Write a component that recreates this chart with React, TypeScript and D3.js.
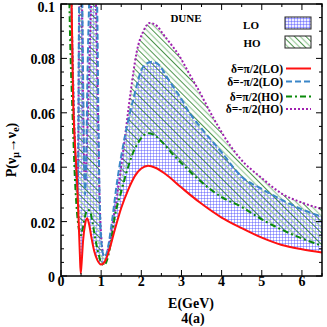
import React from "react";
import * as d3 from "d3";

// ---- data (E in GeV, P probability) ----
const redE = [0.15,0.25,0.265,0.3,0.35,0.4,0.44,0.47,0.49,0.51,0.55,0.6,0.65,0.7,0.76,0.83,0.9,1.0,1.1,1.2,1.34,1.5,1.67,1.85,2.0,2.17,2.35,2.6,3.0,3.46,4.0,4.5,5.0,5.5,6.0,6.5];
const redP = [0.25,0.115,0.1,0.067,0.048,0.035,0.02,0.008,0.001,0.004,0.013,0.019,0.0212,0.019,0.014,0.009,0.006,0.0042,0.0055,0.0095,0.017,0.025,0.0316,0.037,0.0395,0.0405,0.0398,0.0375,0.0325,0.027,0.0215,0.0176,0.0141,0.0114,0.0098,0.0086];

const blueE = [0.15,0.22,0.26,0.3,0.34,0.38,0.41,0.43,0.44,0.45,0.49,0.53,0.55,0.57,0.6,0.63,0.66,0.7,0.8,0.9,0.93,0.96,1.0,1.05,1.1,1.15,1.25,1.4,1.6,1.8,2.05,2.26,2.45,2.63,2.8,2.96,3.2,3.46,4.0,4.5,5.0,5.5,6.0,6.5];
const blueP = [0.25,0.13,0.1,0.072,0.05,0.036,0.031,0.045,0.07,0.1,0.125,0.1,0.074,0.048,0.03,0.045,0.074,0.1,0.13,0.1,0.06,0.03,0.014,0.008,0.007,0.009,0.018,0.035,0.052,0.065,0.077,0.0788,0.0775,0.0733,0.0695,0.066,0.06,0.055,0.0455,0.0365,0.032,0.028,0.0245,0.0218];

const greenE = [0.15,0.19,0.21,0.24,0.27,0.31,0.34,0.38,0.42,0.46,0.5,0.55,0.6,0.66,0.72,0.78,0.85,0.92,1.0,1.07,1.15,1.25,1.34,1.5,1.67,1.8,1.92,2.05,2.17,2.3,2.5,2.8,3.1,3.46,4.0,4.5,5.0,5.5,6.0,6.5];
const greenP = [0.25,0.12,0.1,0.08,0.067,0.05,0.038,0.027,0.02,0.016,0.015,0.018,0.022,0.0243,0.024,0.02,0.014,0.009,0.005,0.004,0.006,0.013,0.0218,0.031,0.04,0.0455,0.049,0.0515,0.0525,0.052,0.0495,0.0445,0.04,0.035,0.029,0.0254,0.0208,0.017,0.0138,0.0111];

const purpleE = [0.15,0.22,0.26,0.3,0.34,0.38,0.41,0.43,0.44,0.455,0.49,0.525,0.545,0.57,0.6,0.65,0.7,0.75,0.81,0.87,0.91,0.95,1.0,1.06,1.12,1.2,1.26,1.4,1.55,1.72,1.88,2.05,2.21,2.4,2.54,2.75,2.96,3.17,3.38,3.8,4.12,4.45,5.0,5.53,6.0,6.5];
const purpleP = [0.25,0.13,0.1,0.073,0.051,0.037,0.033,0.05,0.075,0.1,0.115,0.1,0.07,0.045,0.035,0.05,0.075,0.1,0.11,0.1,0.07,0.035,0.015,0.008,0.008,0.012,0.017,0.03,0.046,0.066,0.082,0.09,0.093,0.0918,0.089,0.085,0.0806,0.075,0.0696,0.058,0.05,0.0434,0.036,0.03,0.027,0.0246];

const xMajor = [0, 1, 2, 3, 4, 5, 6];
const xMinor = [0.5, 1.5, 2.5, 3.5, 4.5, 5.5, 6.5];
const yMajor = [0, 0.02, 0.04, 0.06, 0.08, 0.1];
const yTickLabels = ["0", "0.02", "0.04", "0.06", "0.08", "0.1"];
const yMinor = [0.005,0.01,0.015,0.025,0.03,0.035,0.045,0.05,0.055,0.065,0.07,0.075,0.085,0.09,0.095];

const legendItems = [
  { label: "δ=π/2(LO)", color: "#ff1010", dash: "none" },
  { label: "δ=-π/2(LO)", color: "#3a86c8", dash: "6,3" },
  { label: "δ=π/2(HO)", color: "#0a8a0a", dash: "6,3,2,3" },
  { label: "δ=-π/2(HO)", color: "#a020b0", dash: "2,2" },
];

const FONT = "'Liberation Serif', 'DejaVu Serif', serif";

export default function App() {
  const x = d3.scaleLinear().domain([0, 6.5]).range([61, 322]);
  const y = d3.scaleLinear().domain([0, 0.1]).range([276, 4]);
  const [x0, x1] = x.range();
  const [yb, yt] = y.range();

  const zip = (E: number[], P: number[]) => E.map((e, i) => [e, P[i]] as [number, number]);
  const red = zip(redE, redP);
  const blue = zip(blueE, blueP);
  const green = zip(greenE, greenP);
  const purple = zip(purpleE, purpleP);

  const line = d3
    .line<[number, number]>()
    .x((d) => x(d[0]))
    .y((d) => y(d[1]))
    .curve(d3.curveMonotoneX);

  const closed = (s: [number, number][]) =>
    (line(s) as string) +
    `L${x(s[s.length - 1][0])},${y(-0.01)}L${x(s[0][0])},${y(-0.01)}Z`;
  const band = (a: [number, number][], b: [number, number][]) => closed(a) + closed(b);

  const legendY = [68.5, 81.5, 96.5, 109];

  return (
    <svg width={327} height={327} style={{ position: "absolute", left: 0, top: 0, background: "#fff" }}>
      <defs>
        <clipPath id="plotclip">
          <rect x={x0} y={yt} width={x1 - x0} height={yb - yt} />
        </clipPath>
        <pattern id="grid" patternUnits="userSpaceOnUse" width={3} height={3}>
          <line x1={0} y1={0.5} x2={3} y2={0.5} stroke="#4848ff" strokeWidth={0.5} strokeOpacity={0.85} />
          <line x1={0.5} y1={0} x2={0.5} y2={3} stroke="#4848ff" strokeWidth={0.5} strokeOpacity={0.85} />
        </pattern>
        <pattern id="diag" patternUnits="userSpaceOnUse" width={8} height={8} patternTransform="rotate(45)">
          <line x1={0} y1={1.5} x2={8} y2={1.5} stroke="#1f7a1f" strokeWidth={0.8} />
          <line x1={0} y1={5.5} x2={8} y2={5.5} stroke="#9ccc9c" strokeWidth={1.3} />
        </pattern>
      </defs>

      <g clipPath="url(#plotclip)">
        <path d={band(red, blue)} fill="url(#grid)" fillRule="evenodd" stroke="none" />
        <path d={band(green, purple)} fill="url(#diag)" fillRule="evenodd" stroke="none" />
        <path d={line(purple) as string} fill="none" stroke="#a020b0" strokeWidth={2} strokeDasharray="2,2" />
        <path d={line(blue) as string} fill="none" stroke="#3a86c8" strokeWidth={2} strokeDasharray="6,3" />
        <path d={line(green) as string} fill="none" stroke="#0a8a0a" strokeWidth={2} strokeDasharray="6,3,2,3" />
        <path d={line(red) as string} fill="none" stroke="#ff1010" strokeWidth={2} />
      </g>

      {/* frame */}
      <rect x={x0} y={yt} width={x1 - x0} height={yb - yt} fill="none" stroke="#000" strokeWidth={1.5} />

      {/* x ticks */}
      {xMajor.map((v) => (
        <g key={"xM" + v}>
          <line x1={x(v)} x2={x(v)} y1={yb} y2={yb - 6} stroke="#000" strokeWidth={1} />
          <line x1={x(v)} x2={x(v)} y1={yt} y2={yt + 6} stroke="#000" strokeWidth={1} />
          <text x={x(v)} y={yb + 10} textAnchor="middle" fontFamily={FONT} fontWeight="bold" fontSize={14}>
            {v}
          </text>
        </g>
      ))}
      {xMinor.map((v) => (
        <g key={"xm" + v}>
          <line x1={x(v)} x2={x(v)} y1={yb} y2={yb - 3} stroke="#000" strokeWidth={1} />
          <line x1={x(v)} x2={x(v)} y1={yt} y2={yt + 3} stroke="#000" strokeWidth={1} />
        </g>
      ))}

      {/* y ticks */}
      {yMajor.map((v, i) => (
        <g key={"yM" + v}>
          <line x1={x0} x2={x0 + 6} y1={y(v)} y2={y(v)} stroke="#000" strokeWidth={1} />
          <line x1={x1} x2={x1 - 6} y1={y(v)} y2={y(v)} stroke="#000" strokeWidth={1} />
          <text x={55} y={Math.max(y(v) + 6, 12)} textAnchor="end" fontFamily={FONT} fontWeight="bold" fontSize={14}>
            {yTickLabels[i]}
          </text>
        </g>
      ))}
      {yMinor.map((v) => (
        <g key={"ym" + v}>
          <line x1={x0} x2={x0 + 3} y1={y(v)} y2={y(v)} stroke="#000" strokeWidth={1} />
          <line x1={x1} x2={x1 - 3} y1={y(v)} y2={y(v)} stroke="#000" strokeWidth={1} />
        </g>
      ))}

      {/* axis labels */}
      <text x={191} y={308} textAnchor="middle" fontFamily={FONT} fontWeight="bold" fontSize={14}>
        E(GeV)
      </text>
      <text x={193} y={323} textAnchor="middle" fontFamily={FONT} fontWeight="bold" fontSize={14}>
        4(a)
      </text>
      <text
        transform="translate(16,150) rotate(-90)"
        textAnchor="middle"
        fontFamily={FONT}
        fontWeight="bold"
        fontSize={14}
      >
        P(ν<tspan fontSize={10} dy={3}>μ</tspan>
        <tspan dy={-3}>→ν</tspan>
        <tspan fontSize={10} dy={3}>e</tspan>
        <tspan dy={-3}>)</tspan>
      </text>

      {/* legend */}
      <text x={186} y={22} textAnchor="middle" fontFamily={FONT} fontWeight="bold" fontSize={11}>
        DUNE
      </text>
      <text x={251} y={29} textAnchor="middle" fontFamily={FONT} fontWeight="bold" fontSize={11}>
        LO
      </text>
      <rect x={285} y={17} width={26} height={12} fill="#eef" stroke="none" />
      <rect x={285} y={17} width={26} height={12} fill="url(#grid)" stroke="#222" strokeWidth={1} />
      <text x={252} y={47} textAnchor="middle" fontFamily={FONT} fontWeight="bold" fontSize={11}>
        HO
      </text>
      <rect x={285} y={36} width={26} height={12} fill="url(#diag)" stroke="#222" strokeWidth={1} />
      {legendItems.map((it, i) => (
        <g key={it.label}>
          <text x={283} y={legendY[i] + 4} textAnchor="end" fontFamily={FONT} fontWeight="bold" fontSize={11.5}>
            {it.label}
          </text>
          <line
            x1={286}
            x2={311}
            y1={legendY[i]}
            y2={legendY[i]}
            stroke={it.color}
            strokeWidth={2}
            strokeDasharray={it.dash}
          />
        </g>
      ))}
    </svg>
  );
}
